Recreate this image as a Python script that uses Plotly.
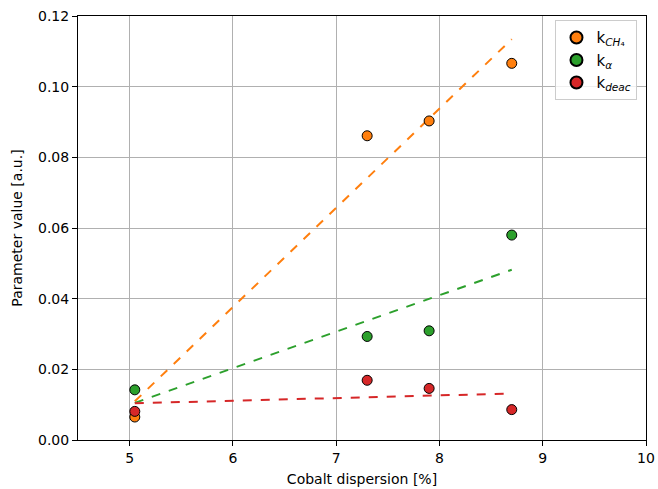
import numpy as np
import plotly.graph_objects as go

dispersion = [5.05, 7.3, 7.9, 8.7]
k_ch4 = [0.0065, 0.0861, 0.0903, 0.1066]
k_alpha = [0.0142, 0.0293, 0.0309, 0.0580]
k_deac = [0.0081, 0.0169, 0.0146, 0.0086]

series = [
    ("k<sub><i>CH</i>₄</sub>", k_ch4, "#ff7f0e"),
    ("k<sub><i>α</i></sub>", k_alpha, "#2ca02c"),
    ("k<sub><i>deac</i></sub>", k_deac, "#d62728"),
]

fig = go.Figure()
x = np.array(dispersion)
for name, y, color in series:
    slope, intercept = np.polyfit(x, np.array(y), 1)
    xf = np.array([x.min(), x.max()])
    fig.add_trace(go.Scatter(x=xf, y=slope * xf + intercept, mode="lines",
                             line=dict(color=color, width=2, dash="dash"),
                             showlegend=False, hoverinfo="skip"))
for name, y, color in series:
    fig.add_trace(go.Scatter(x=dispersion, y=y, mode="markers", name=name,
                             marker=dict(color=color, size=10,
                                         line=dict(color="black", width=1))))

axis_common = dict(showgrid=True, gridcolor="#b0b0b0", gridwidth=1,
                   showline=True, linecolor="black", linewidth=1, mirror=True,
                   ticks="outside", ticklen=5, tickcolor="black", automargin=False,
                   zeroline=False, tickfont=dict(size=14, color="black"))

fig.update_layout(
    width=658, height=489,
    margin=dict(l=78, r=12, t=16, b=49),
    paper_bgcolor="white", plot_bgcolor="white",
    font=dict(family="DejaVu Sans", size=14, color="black"),
    xaxis=dict(range=[4.5, 10], dtick=1, tick0=5,
               title=dict(text="Cobalt dispersion [%]", standoff=9, font=dict(size=14)),
               **axis_common),
    yaxis=dict(range=[0, 0.12], dtick=0.02, tickformat=".2f",
               title=dict(text="Parameter value [a.u.]", standoff=12, font=dict(size=14)),
               **axis_common),
    legend=dict(x=0.985, y=0.99, xanchor="right", yanchor="top",
                bgcolor="rgba(255,255,255,0.8)", bordercolor="#cccccc", borderwidth=1,
                font=dict(size=15), itemsizing="constant", tracegroupgap=4),
)

fig.write_html("out.html")
